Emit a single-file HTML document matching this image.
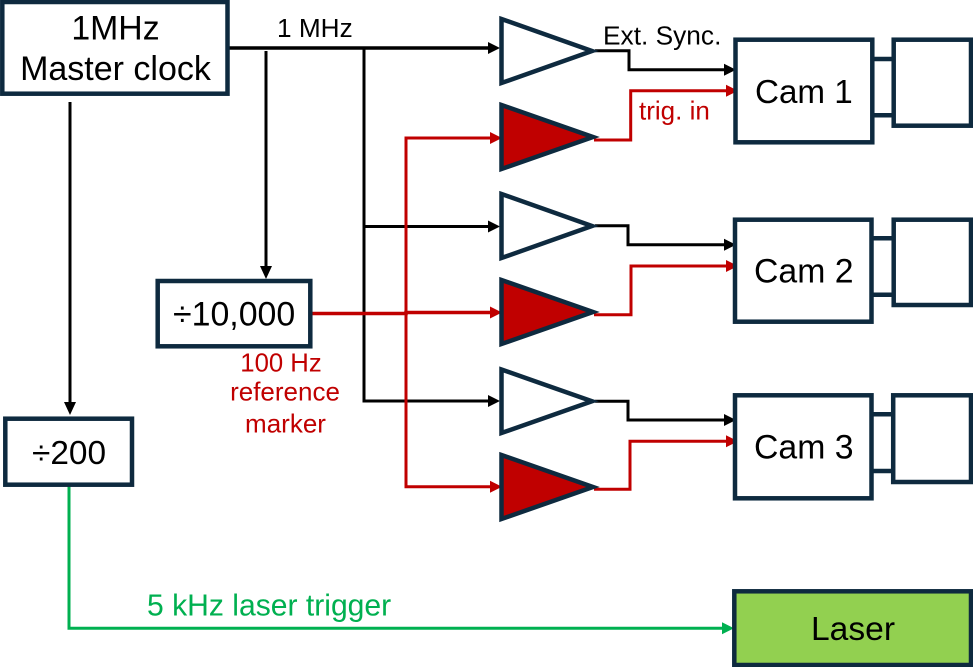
<!DOCTYPE html>
<html>
<head>
<meta charset="utf-8">
<style>
html,body{margin:0;padding:0;background:#fff;width:973px;height:667px;overflow:hidden}
svg{display:block}
text{font-family:"Liberation Sans",Arial,sans-serif;fill:#000}
.r{fill:#c00000}
.g{fill:#00b050}
.box{fill:#fff;stroke:#0e2a3f;stroke-width:4.500}
.tw{fill:#fff;stroke:#0e2a3f;stroke-width:4.500;stroke-linejoin:miter;stroke-miterlimit:10}
.tr{fill:#c00000;stroke:#0e2a3f;stroke-width:4.500;stroke-linejoin:miter;stroke-miterlimit:10}
.k{fill:none;stroke:#000;stroke-width:3}
.rl{fill:none;stroke:#c00000;stroke-width:3}
.gl{fill:none;stroke:#00b050;stroke-width:3}
.c{stroke:#0e2a3f;stroke-width:4.500}
</style>
</head>
<body>
<svg width="973" height="667" viewBox="0 0 973 667" xmlns="http://www.w3.org/2000/svg">
<rect width="973" height="667" fill="#fff"/>

<!-- black wiring -->
<path class="k" d="M229 48H490" style="stroke-width:3.500"/>
<path class="k" d="M364 48V401H490M364 226.500H490"/>
<path class="k" d="M266 51V268"/>
<path class="k" d="M70 102V404"/>
<path class="k" d="M595 50.700H629V69.700H724"/>
<path class="k" d="M595 225.700H628V244.700H724"/>
<path class="k" d="M595 401.300H628V420H724"/>
<polygon points="500,48 488,42 488,54" fill="#000"/>
<polygon points="500,226.500 488,220.500 488,232.500" fill="#000"/>
<polygon points="500,401 488,395 488,407" fill="#000"/>
<polygon points="266,279 260,266 272,266" fill="#000"/>
<polygon points="70,415 64,402 76,402" fill="#000"/>
<polygon points="736,69.700 724,63.700 724,75.700" fill="#000"/>
<polygon points="736,244.700 724,238.700 724,250.700" fill="#000"/>
<polygon points="736,420 724,414 724,426" fill="#000"/>

<!-- red wiring -->
<path class="rl" d="M312 313.500H406V312.500H490" style="stroke-width:3.500"/>
<path class="rl" d="M490 138H406V486.700H490"/>
<path class="rl" d="M594 140H630.700V90.700H726"/>
<path class="rl" d="M594 314.700H631V266H726"/>
<path class="rl" d="M594 489.300H630V441.300H726"/>
<polygon points="502,138 490,132 490,144" fill="#c00000"/>
<polygon points="502,312.500 490,306.500 490,318.500" fill="#c00000"/>
<polygon points="502,486.700 490,480.700 490,492.700" fill="#c00000"/>
<polygon points="738,90.700 726,84.700 726,96.700" fill="#c00000"/>
<polygon points="738,266 726,260 726,272" fill="#c00000"/>
<polygon points="738,441.300 726,435.300 726,447.300" fill="#c00000"/>

<!-- green wiring -->
<path class="gl" d="M69 485V628.300H722"/>
<polygon points="734,628.300 722,622.300 722,634.300" fill="#00b050"/>

<!-- triangles -->
<polygon class="tw" points="501.500,19 592,51 501.500,83"/>
<polygon class="tr" points="501.500,105 593,137 501.500,169"/>
<polygon class="tw" points="501.500,194 592,226 501.500,258"/>
<polygon class="tr" points="501.500,280 593,312 501.500,344"/>
<polygon class="tw" points="501.500,369.500 592,401.300 501.500,433"/>
<polygon class="tr" points="501.500,455 593,487 501.500,519"/>

<!-- left boxes -->
<rect class="box" x="2.300" y="2" width="225.200" height="91.700"/>
<rect class="box" x="157.700" y="281" width="152.600" height="65.300"/>
<rect class="box" x="5.300" y="418.700" width="126.700" height="66"/>

<!-- camera 1 -->
<path class="c" d="M874 59H892M874 115.300H892"/>
<rect class="box" x="735.500" y="39.700" width="136.800" height="102.600"/>
<rect class="box" x="893.700" y="39.700" width="77.300" height="86"/>
<!-- camera 2 -->
<path class="c" d="M873 238.300H892M873 294.700H892"/>
<rect class="box" x="735" y="219.700" width="136.500" height="102"/>
<rect class="box" x="893.700" y="219.700" width="77.300" height="85.300"/>
<!-- camera 3 -->
<path class="c" d="M873 414.300H892M873 471H892"/>
<rect class="box" x="735" y="395.300" width="136.500" height="103"/>
<rect class="box" x="893.200" y="395.300" width="77.800" height="86.700"/>
<!-- laser -->
<rect x="734.300" y="591.300" width="236.700" height="73.700" fill="#92d050" stroke="#0e2a3f" stroke-width="4.500"/>

<!-- labels -->
<text x="115.500" y="39.300" font-size="33.800" text-anchor="middle">1MHz</text>
<text x="115.500" y="80" font-size="34" text-anchor="middle">Master clock</text>
<text x="277" y="37" font-size="26.200">1 MHz</text>
<text x="603" y="44.300" font-size="26.300">Ext. Sync.</text>
<text x="639" y="119.300" class="r" font-size="26">trig. in</text>
<text x="755" y="103" font-size="33.200">Cam 1</text>
<text x="754" y="282.700" font-size="33.800">Cam 2</text>
<text x="754" y="458.700" font-size="33.800">Cam 3</text>
<text x="811" y="640" font-size="33.600">Laser</text>
<text x="173" y="325.700" font-size="33.900">÷10,000</text>
<text x="32" y="464" font-size="33.400">÷200</text>
<text x="281" y="371.700" class="r" font-size="25.700" text-anchor="middle">100 Hz</text>
<text x="285" y="400.700" class="r" font-size="26" text-anchor="middle">reference</text>
<text x="285.500" y="432.700" class="r" font-size="26" text-anchor="middle">marker</text>
<text x="147" y="615.700" class="g" font-size="30.100">5 kHz laser trigger</text>
</svg>
</body>
</html>
